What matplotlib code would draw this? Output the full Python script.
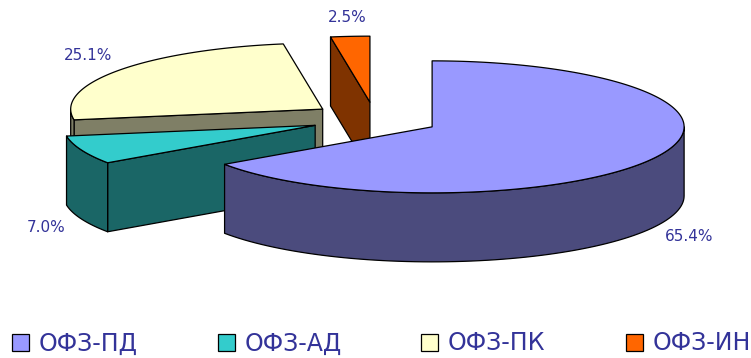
import numpy as np
import matplotlib
matplotlib.use("Agg")
import matplotlib.pyplot as plt
from matplotlib.patches import Polygon, Rectangle

labels = ["ОФЗ-ПД", "ОФЗ-АД", "ОФЗ-ПК", "ОФЗ-ИН"]
values = [65.4, 7.0, 25.1, 2.5]
top_colors = ["#9999FF", "#33CCCC", "#FFFFCC", "#FF6600"]
side_colors = ["#4B4B7D", "#1A6666", "#7F7F66", "#7F3300"]
text_color = "#333399"

# geometry in pixels (y down)
cx, cy = 375.0, 119.0
rx, ry = 252.0, 66.0
h = 69.0
explode = 0.256

fig = plt.figure(figsize=(7.51, 3.58), dpi=100)
ax = fig.add_axes([0, 0, 1, 1])
ax.set_xlim(0, 751)
ax.set_ylim(358, 0)
ax.axis("off")


def rim(ox, oy, th):
    t = np.radians(th)
    return ox + rx * np.sin(t), oy - ry * np.cos(t)


def poly(pts, color, z):
    ax.add_patch(Polygon(pts, closed=True, facecolor=color, edgecolor="black",
                         lw=0.9, zorder=z, joinstyle="round"))


total = sum(values)
starts = np.cumsum([0] + values[:-1]) / total * 360
ends = np.cumsum(values) / total * 360
order = [3, 2, 1, 0]  # back to front

for rank, i in enumerate(order):
    a0, a1 = starts[i], ends[i]
    mid = np.radians((a0 + a1) / 2)
    ox = cx + explode * rx * np.sin(mid)
    oy = cy - explode * ry * np.cos(mid)
    z = 10 + rank * 5
    # radial faces, only those turned to the viewer
    for a, n in ((a0, a0 - 90), (a1, a1 + 90)):
        if -np.cos(np.radians(n)) <= 1e-6:
            continue
        px, py = rim(ox, oy, a)
        poly([(ox, oy), (px, py), (px, py + h), (ox, oy + h)], side_colors[i], z)
    # outer wall, front half only
    w0, w1 = max(a0, 90), min(a1, 270)
    if w1 > w0:
        th = np.linspace(w0, w1, 80)
        xs, ys = rim(ox, oy, th)
        pts = list(zip(xs, ys)) + list(zip(xs[::-1], ys[::-1] + h))
        poly(pts, side_colors[i], z + 1)
    # top face
    th = np.linspace(a0, a1, 200)
    xs, ys = rim(ox, oy, th)
    poly([(ox, oy)] + list(zip(xs, ys)), top_colors[i], z + 2)
    # label
    lx = ox + 1.15 * rx * np.sin(mid)
    ly = oy - 1.15 * ry * np.cos(mid)
    ly += h + 5 if np.cos(mid) < 0 else -9
    ax.text(lx, ly, f"{values[i]:.1f}%", color=text_color, fontsize=11,
            ha="center", va="center", zorder=50)

# legend
leg_x = [12, 218, 421, 626]
for i, lab in enumerate(labels):
    ax.add_patch(Rectangle((leg_x[i], 334), 17, 17, facecolor=top_colors[i],
                           edgecolor="black", lw=0.9, zorder=50))
    ax.text(leg_x[i] + 27, 343.5, lab, color=text_color, fontsize=17,
            ha="left", va="center", zorder=50)

fig.savefig("out.png", dpi=100)
